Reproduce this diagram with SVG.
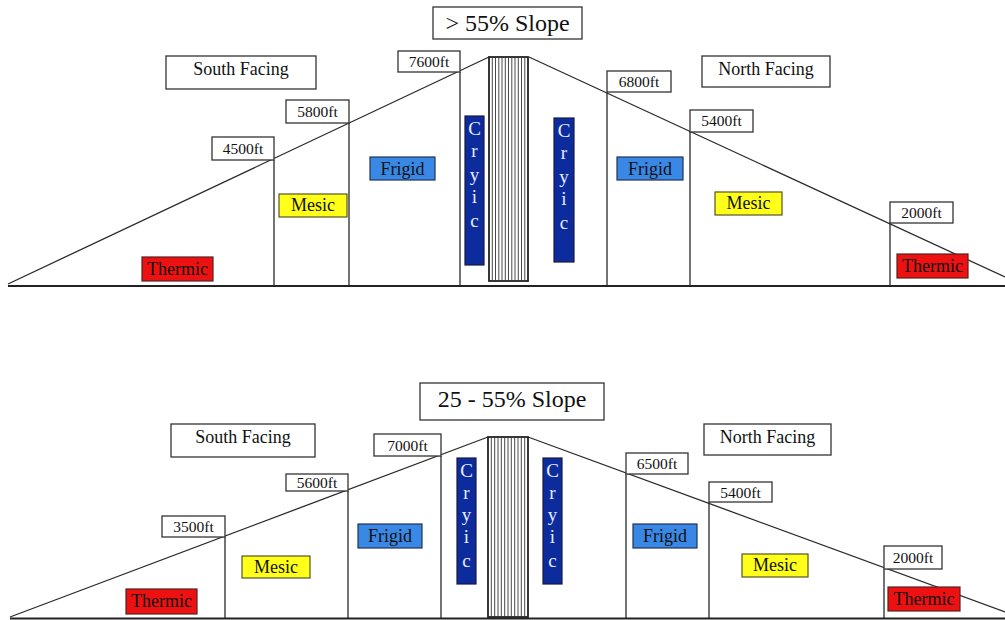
<svg xmlns="http://www.w3.org/2000/svg" width="1005" height="620" viewBox="0 0 1005 620">
<style>
text{font-family:"Liberation Serif","Times New Roman",serif;text-anchor:middle}
.box{fill:#fff;stroke:#333;stroke-width:1.3}
.lbl{font-size:15.5px;fill:#111}
.face{font-size:18px;fill:#111}
.title{font-size:24px;fill:#111}
.th{fill:#ee1111;stroke:#552222;stroke-width:1.2}
.me{fill:#ffff1a;stroke:#555522;stroke-width:1.2}
.fr{fill:#3a88e6;stroke:#223355;stroke-width:1.2}
.cr{fill:#0c2c9e;stroke:#1a1a40;stroke-width:1.2}
.zt{font-size:18px;fill:#111}
.ct{font-size:19px;fill:#e8ecff}
.ln{stroke:#2a2a2a;stroke-width:1.3;fill:none}
.gnd{stroke:#222;stroke-width:2.2;fill:none}
.hatch{stroke:#333;stroke-width:0.9;fill:none}
.hb{fill:#fff;stroke:#222;stroke-width:1.8}
</style>
<rect width="1005" height="620" fill="#fff"/>

<g id="connectors">
  <path class="ln" d="M8 284 L489 57 M529 57 L1005 277"/>
  <path class="ln" d="M274 160 V285 M349 122 V285 M460 72 V285 M607 92 V285 M690 131 V285 M890 222 V285"/>
  <path class="gnd" d="M8 286 H1005"/>
  <path class="ln" d="M10 617 L488 437 M528 437 L1005 612"/>
  <path class="ln" d="M225 537 V618 M348 491 V618 M441 456 V618 M626 474 V618 M709 502 V618 M884 569 V618"/>
  <path class="gnd" d="M10 618.5 H1005"/>
</g>

<g id="peak-top">
  <rect class="hb" x="489" y="57" width="39" height="224"/>
  <path class="hatch" d="M492.3 57V281M495.5 57V281M498.8 57V281M502 57V281M505.3 57V281M508.5 57V281M511.8 57V281M515 57V281M518.3 57V281M521.5 57V281M524.8 57V281"/>
</g>
<g id="peak-bottom">
  <rect class="hb" x="488" y="437" width="40" height="180"/>
  <path class="hatch" d="M491.3 437V617M494.7 437V617M498 437V617M501.3 437V617M504.7 437V617M508 437V617M511.3 437V617M514.7 437V617M518 437V617M521.3 437V617M524.7 437V617"/>
</g>

<g id="title-top"><rect class="box" x="433" y="7" width="149" height="32"/><text class="title" x="507.5" y="31">&gt; 55% Slope</text></g>
<g id="south-top"><rect class="box" x="166" y="56" width="150" height="33"/><text class="face" x="241" y="75">South Facing</text></g>
<g id="north-top"><rect class="box" x="702" y="56" width="128" height="31"/><text class="face" x="766" y="74.5">North Facing</text></g>
<g id="e4500"><rect class="box" x="212" y="137" width="62" height="23"/><text class="lbl" x="243" y="154">4500ft</text></g>
<g id="e5800"><rect class="box" x="286" y="100" width="63" height="23"/><text class="lbl" x="317.5" y="117">5800ft</text></g>
<g id="e7600"><rect class="box" x="398" y="51" width="62" height="21"/><text class="lbl" x="429" y="67">7600ft</text></g>
<g id="e6800"><rect class="box" x="607" y="71" width="64" height="21"/><text class="lbl" x="639" y="87">6800ft</text></g>
<g id="e5400t"><rect class="box" x="690" y="110" width="63" height="22"/><text class="lbl" x="721.5" y="126">5400ft</text></g>
<g id="e2000t"><rect class="box" x="890" y="202" width="63" height="21"/><text class="lbl" x="921.5" y="218">2000ft</text></g>

<g id="thermic-tl"><rect class="th" x="142" y="257" width="71" height="24"/><text class="zt" x="177.5" y="275">Thermic</text></g>
<g id="mesic-tl"><rect class="me" x="279" y="194" width="68" height="23"/><text class="zt" x="313" y="211">Mesic</text></g>
<g id="frigid-tl"><rect class="fr" x="370" y="157" width="65" height="23"/><text class="zt" x="402.5" y="175">Frigid</text></g>
<g id="cryic-tl"><rect class="cr" x="465" y="116" width="19" height="149"/>
  <text class="ct" x="474.5" y="135">C</text><text class="ct" x="474.5" y="157">r</text><text class="ct" x="474.5" y="181">y</text><text class="ct" x="474.5" y="203">i</text><text class="ct" x="474.5" y="227">c</text></g>
<g id="cryic-tr"><rect class="cr" x="554" y="118" width="20" height="144"/>
  <text class="ct" x="564" y="137">C</text><text class="ct" x="564" y="159">r</text><text class="ct" x="564" y="183">y</text><text class="ct" x="564" y="205">i</text><text class="ct" x="564" y="229">c</text></g>
<g id="frigid-tr"><rect class="fr" x="617" y="157" width="66" height="23"/><text class="zt" x="650" y="175">Frigid</text></g>
<g id="mesic-tr"><rect class="me" x="715" y="192" width="67" height="23"/><text class="zt" x="748.5" y="209">Mesic</text></g>
<g id="thermic-tr"><rect class="th" x="897" y="254" width="71" height="24"/><text class="zt" x="932.5" y="272">Thermic</text></g>

<g id="title-bottom"><rect class="box" x="420" y="383" width="184" height="37"/><text class="title" x="512" y="407">25 - 55% Slope</text></g>
<g id="south-bottom"><rect class="box" x="171" y="424" width="144" height="33"/><text class="face" x="243" y="443">South Facing</text></g>
<g id="north-bottom"><rect class="box" x="704" y="424" width="127" height="31"/><text class="face" x="767.5" y="442.5">North Facing</text></g>
<g id="e3500"><rect class="box" x="162" y="516" width="63" height="21"/><text class="lbl" x="193.5" y="532">3500ft</text></g>
<g id="e5600"><rect class="box" x="286" y="474" width="62" height="17"/><text class="lbl" x="317" y="488">5600ft</text></g>
<g id="e7000"><rect class="box" x="374" y="434" width="67" height="22"/><text class="lbl" x="407.5" y="451">7000ft</text></g>
<g id="e6500"><rect class="box" x="626" y="453" width="62" height="21"/><text class="lbl" x="657" y="469">6500ft</text></g>
<g id="e5400b"><rect class="box" x="709" y="482" width="63" height="20"/><text class="lbl" x="740.5" y="498">5400ft</text></g>
<g id="e2000b"><rect class="box" x="884" y="546" width="58" height="23"/><text class="lbl" x="913" y="563">2000ft</text></g>

<g id="thermic-bl"><rect class="th" x="126" y="589" width="71" height="25"/><text class="zt" x="161.5" y="607">Thermic</text></g>
<g id="mesic-bl"><rect class="me" x="242" y="556" width="68" height="22"/><text class="zt" x="276" y="573">Mesic</text></g>
<g id="frigid-bl"><rect class="fr" x="358" y="524" width="64" height="24"/><text class="zt" x="390" y="542">Frigid</text></g>
<g id="cryic-bl"><rect class="cr" x="457" y="458" width="19" height="126"/>
  <text class="ct" x="466.5" y="477">C</text><text class="ct" x="466.5" y="499">r</text><text class="ct" x="466.5" y="521">y</text><text class="ct" x="466.5" y="543">i</text><text class="ct" x="466.5" y="567">c</text></g>
<g id="cryic-br"><rect class="cr" x="543" y="458" width="19" height="126"/>
  <text class="ct" x="552.5" y="477">C</text><text class="ct" x="552.5" y="499">r</text><text class="ct" x="552.5" y="521">y</text><text class="ct" x="552.5" y="543">i</text><text class="ct" x="552.5" y="567">c</text></g>
<g id="frigid-br"><rect class="fr" x="633" y="524" width="64" height="24"/><text class="zt" x="665" y="542">Frigid</text></g>
<g id="mesic-br"><rect class="me" x="742" y="554" width="66" height="23"/><text class="zt" x="775" y="571">Mesic</text></g>
<g id="thermic-br"><rect class="th" x="888" y="587" width="72" height="24"/><text class="zt" x="924" y="605">Thermic</text></g>
</svg>
